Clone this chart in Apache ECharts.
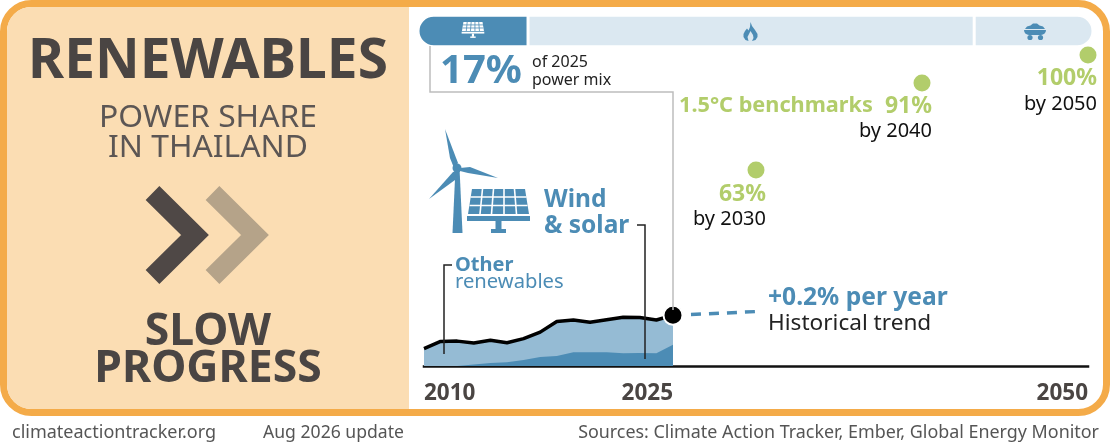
<!DOCTYPE html>
<html><head><meta charset="utf-8">
<script src="https://cdn.jsdelivr.net/npm/echarts@6/dist/echarts.min.js"></script>
<style>html,body{margin:0;padding:0;background:#fff}#c{width:1110px;height:444px}</style>
</head><body><div id="c"></div>
<script>
const years=[2010,2011,2012,2013,2014,2015,2016,2017,2018,2019,2020,2021,2022,2023,2024,2025];
const totalRenewables=[5.6,7.9,8.0,7.4,8.3,7.5,8.8,10.9,14.3,14.8,14.1,14.9,15.7,15.6,14.8,16.3];
const windSolar=[0,0,0,0.5,1.0,1.2,1.9,2.9,3.2,4.4,4.4,4.4,4.1,4.2,4.1,6.8];
const trendYears=[2025,2030];
const trendValues=[16.3,17.5];
const benchmarkYears=[2030,2040,2050];
const benchmarkValues=[63,91,100];
const mixNames=['Renewables','Gas','Coal'];
const mixValues=[16.3,66.1,17.6];
const xTicks=[2010,2025,2050];

const BLUE='#4c8cb5',LIGHT='#95bbd4',PALE='#dbe8f1',GREEN='#b2cd6b',DARK='#4a4543',ORANGE='#f4ab49',CREAM='#fbddb3',FONT='"Noto Sans"';
const T=(text,x,y,size,color,weight,align)=>({type:'text',z:12,style:{text,x,y,font:(weight||'normal')+' '+size+'px '+FONT,fill:color,align:align||'left',verticalAlign:'middle'}});
const P=(points,fill)=>({type:'polygon',z:12,shape:{points},style:{fill}});
const L=(points,stroke,w,extra)=>({type:'polyline',z:12,shape:{points},style:Object.assign({stroke,lineWidth:w,fill:'none'},extra||{})});
const R=(x,y,width,height,fill,r)=>({type:'rect',z:12,shape:{x,y,width,height,r:r||0},style:{fill}});

function panel(fg,bg){
  const kids=[P([[472,189],[525,189],[529,214],[468,214]],fg)];
  [482.5,493.5,504,514.5].forEach((x,i)=>{const b=[480,491.5,504,516.5][i];kids.push(L([[x,189],[b,214]],bg,1.6));});
  kids.push(L([[470.5,197],[526.5,197]],bg,1.6),L([[469.5,205.5],[527.5,205.5]],bg,1.6));
  kids.push(R(467,216,63,5,fg),R(495.5,221,6,9,fg),R(491,229,15,4,fg));
  return kids;
}

const graphics=[
  {type:'rect',z:0,shape:{x:3.5,y:3.5,width:1103,height:409,r:28},style:{fill:'#fff',stroke:ORANGE,lineWidth:7}},
  {type:'rect',z:0,shape:{x:7,y:7,width:402,height:402,r:[24,0,0,24]},style:{fill:CREAM}},
  T('RENEWABLES',208,62,55,DARK,'bold','center'),
  T('POWER SHARE',208,118,31.8,'#5c5654','normal','center'),
  T('IN THAILAND',208,148,31.8,'#5c5654','normal','center'),
  L([[152.5,193],[195,235],[152.5,277]],'#4f4846',19.5,{lineJoin:'miter'}),
  L([[212.5,193],[255,235],[212.5,277]],'#b5a389',19.5,{lineJoin:'miter'}),
  T('SLOW',208,332,44.5,DARK,'bold','center'),
  T('PROGRESS',208,369,44.5,DARK,'bold','center'),
  T('climateactiontracker.org',12,433,18,'#555','normal'),
  T('Aug 2026 update',263,433,17.6,'#555','normal'),
  T('Sources: Climate Action Tracker, Ember, Global Energy Monitor',1099,433,17.9,'#555','normal','right'),
  L([[430,46],[430,92],[673,92],[673,310]],'#bdbdbd',1.5),
  T('17%',440,72,40,BLUE,'bold'),
  T('of 2025',532,62,16,'#222'),
  T('power mix',532,80,16,'#222'),
  T('1.5°C benchmarks',679,106,21.7,GREEN,'bold'),
  T('91%',932,106,23,GREEN,'bold','right'),
  T('by 2040',932,131,20,'#111','normal','right'),
  T('100%',1097,78,23,GREEN,'bold','right'),
  T('by 2050',1097,104,20,'#111','normal','right'),
  T('63%',766,194,23,GREEN,'bold','right'),
  T('by 2030',766,219,20,'#111','normal','right'),
  T('Wind',544,200,24.5,BLUE,'bold'),
  T('& solar',544,226,24.5,BLUE,'bold'),
  T('Other',455,265,20,BLUE,'bold'),
  T('renewables',455,282,20.2,BLUE,'normal'),
  T('+0.2% per year',768,298,24.6,BLUE,'bold'),
  T('Historical trend',768,324,22.6,'#222','normal'),
  L([[452,265],[444,265],[444,354]],'#222',1.5),
  L([[637,225],[645,225],[645,359]],'#222',1.5),
  P([[445,129],[458,163],[454,168],[450,158]],BLUE),
  P([[498,178],[470,167],[460,168],[460,171],[468,173]],BLUE),
  P([[429,199],[453,172],[458,171],[455,180]],BLUE),
  P([[455.5,168],[459.5,168],[462.5,233],[452.5,233]],BLUE),
  {type:'circle',z:12,shape:{cx:457,cy:168,r:4.5},style:{fill:BLUE}},
  ...panel(BLUE,'#fff'),
  {type:'group',z:12,x:293.5,y:-46,scaleX:.36,scaleY:.36,children:panel('#fff',BLUE).map(e=>{if(e.type==='polyline')e.style.lineWidth=2.2;return e;})},
  P([[750.5,22],[752,26],[755,30],[757.5,34],[757.5,37],[755.5,40],[752,41],[753.5,38],[753,35],[750.5,31],[749,34],[747.5,37],[748.5,41],[745.5,40],[743.5,37],[743.5,34],[745,31],[747,28.5],[748.5,30.5],[750,27]],BLUE),
  P([[1025,29],[1027,26.5],[1030.5,25.5],[1033,23.5],[1037,23.5],[1039.5,25.5],[1043,26.5],[1045,29]],BLUE),
  R(1024,30,22,5,BLUE,[0,0,5,5]),
  {type:'circle',z:12,shape:{cx:1030,cy:37.5,r:2.6},style:{fill:BLUE}},
  {type:'circle',z:12,shape:{cx:1040.5,cy:37.5,r:2.6},style:{fill:BLUE}}
];

const pair=(xs,ys)=>xs.map((x,i)=>[x,ys[i]]);
const mixColors=[BLUE,PALE,PALE];
const radii=[[15,0,0,15],[0,0,0,0],[0,15,15,0]];
const mixSeries=mixNames.map((name,i)=>({
  type:'bar',name,stack:'mix',xAxisIndex:1,yAxisIndex:1,barWidth:31.5,data:[mixValues[i]],silent:true,
  itemStyle:{color:mixColors[i],borderRadius:radii[i],borderColor:'#fff',borderWidth:1.5},z:1
}));

const chart=echarts.init(document.getElementById('c'),null,{renderer:'canvas'});
chart.setOption({
  animation:false,
  grid:[
    {left:424,right:22,top:55,bottom:78},
    {left:418,width:675,top:16,height:30}
  ],
  xAxis:[
    {type:'value',gridIndex:0,min:2010,max:2050,splitLine:{show:false},axisTick:{show:false},
     axisLine:{onZero:false,lineStyle:{color:'#111',width:2.5,cap:'square'}},
     axisLabel:{customValues:xTicks,align:'right',alignMinLabel:'left',margin:16,fontFamily:FONT,fontWeight:'bold',fontSize:22.5,color:DARK,formatter:v=>String(v)}},
    {type:'value',gridIndex:1,min:0,max:100,show:false}
  ],
  yAxis:[
    {type:'value',gridIndex:0,min:0,max:100,show:false},
    {type:'category',gridIndex:1,data:['mix'],show:false}
  ],
  graphic:{elements:graphics},
  series:[
    ...mixSeries,
    {type:'line',name:'Total renewables',data:pair(years,totalRenewables),showSymbol:false,symbol:'none',z:3,
     lineStyle:{color:'#000',width:3.5},areaStyle:{color:LIGHT,opacity:1}},
    {type:'line',name:'Wind & solar',data:pair(years,windSolar),showSymbol:false,symbol:'none',z:4,
     lineStyle:{width:0},areaStyle:{color:BLUE,opacity:1}},
    {type:'line',name:'Trend',data:pair(trendYears,trendValues),showSymbol:false,symbol:'none',z:3,
     lineStyle:{color:BLUE,width:3.5,type:[10,8]}},
    {type:'scatter',name:'2025',data:[[years[15],totalRenewables[15]]],symbolSize:19,z:5,
     itemStyle:{color:'#000',borderColor:'#fff',borderWidth:2,opacity:1}},
    {type:'scatter',name:'1.5°C benchmarks',data:pair(benchmarkYears,benchmarkValues),symbolSize:17,z:5,
     itemStyle:{color:GREEN,opacity:1}}
  ]
});
</script></body></html>
